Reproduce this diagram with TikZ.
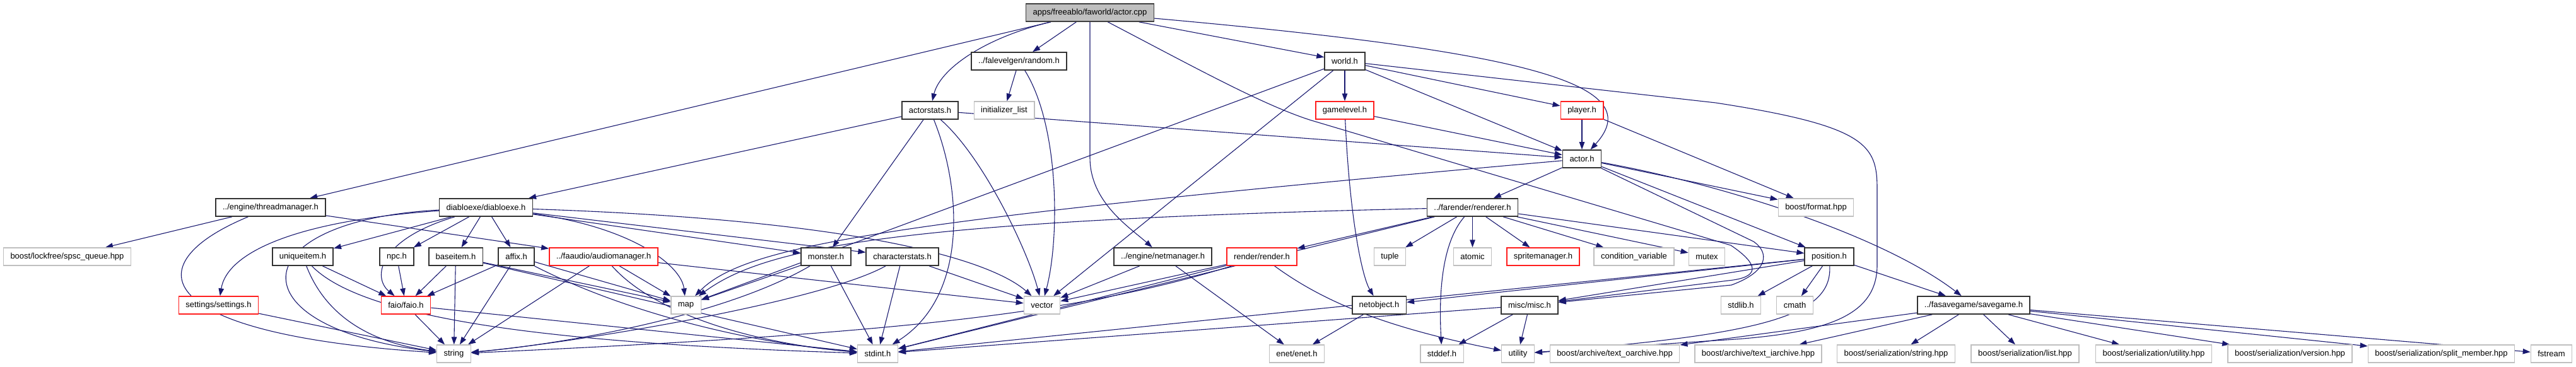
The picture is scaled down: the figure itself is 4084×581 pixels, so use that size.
\documentclass[tikz,border=0pt]{standalone}
\usepackage{fontspec}
\setmainfont{Liberation Sans}
\usepackage{tikz}
\usetikzlibrary{arrows.meta}

\definecolor{edgeblue}{RGB}{25,25,112}
\definecolor{boxgray}{RGB}{191,191,191}
\definecolor{boxred}{RGB}{255,30,30}

\pgfdeclarelayer{edges}
\pgfsetlayers{edges,main}

\begin{document}
\begin{tikzpicture}[x=1pt, y=-1pt,
    every node/.style={font=\fontsize{13}{15}\selectfont, inner xsep=11pt, inner ysep=0pt, minimum height=28pt, fill=white},
    filebox/.style={draw=black!80, line width=1.6pt},
    redbox/.style={draw=boxred, line width=1.4pt},
    sysbox/.style={draw=boxgray, line width=1.3pt},
    rootbox/.style={draw=black!75, line width=1.6pt, fill=boxgray},
    dep/.style={draw=edgeblue, line width=1.1pt, -{Triangle[length=12pt,width=8.5pt]}, edgeblue}]
    \useasboundingbox (0,0) rectangle (4084,581);

    % Nodes, top to bottom
    \node[rootbox] (cpp) at (1728,20) {apps/freeablo/faworld/actor.cpp};

    \node[filebox] (random) at (1615.5,97) {../falevelgen/random.h};
    \node[filebox] (world) at (2132,97) {world.h};

    \node[filebox] (actorstats) at (1474.5,175) {actorstats.h};
    \node[sysbox] (initlist) at (1592,175) {initializer\_list};
    \node[redbox] (gamelevel) at (2132,175) {gamelevel.h};
    \node[redbox] (player) at (2508,175) {player.h};

    \node[filebox] (actorh) at (2508,252) {actor.h};

    \node[filebox] (threadmgr) at (429,329) {../engine/threadmanager.h};
    \node[filebox] (diabloexe) at (770.5,329) {diabloexe/diabloexe.h};
    \node[filebox] (renderer) at (2334.5,329) {../farender/renderer.h};
    \node[sysbox] (boostformat) at (2879,329) {boost/format.hpp};

    \node[sysbox] (spsc) at (106.5,407) {boost/lockfree/spsc\_queue.hpp};
    \node[filebox] (uniqueitem) at (480,407) {uniqueitem.h};
    \node[filebox] (npc) at (629,407) {npc.h};
    \node[filebox] (baseitem) at (722.5,407) {baseitem.h};
    \node[filebox] (affix) at (818.5,407) {affix.h};
    \node[redbox] (audiomgr) at (957,407) {../faaudio/audiomanager.h};
    \node[filebox] (monster) at (1309.5,407) {monster.h};
    \node[filebox] (charstats) at (1430.5,407) {characterstats.h};
    \node[filebox] (netmgr) at (1843.5,407) {../engine/netmanager.h};
    \node[redbox] (render) at (2000.5,407) {render/render.h};
    \node[sysbox] (tuple) at (2203.5,407) {tuple};
    \node[sysbox] (atomic) at (2334.5,407) {atomic};
    \node[redbox] (spritemgr) at (2446.5,407) {spritemanager.h};
    \node[sysbox] (condvar) at (2590.5,407) {condition\_variable};
    \node[sysbox] (mutex) at (2706,407) {mutex};
    \node[filebox] (position) at (2900,407) {position.h};

    \node[redbox] (settings) at (346.5,484) {settings/settings.h};
    \node[redbox] (faio) at (643.5,484) {faio/faio.h};
    \node[sysbox] (map) at (1087.5,484) {map};
    \node[sysbox] (vector) at (1652,484) {vector};
    \node[filebox] (netobject) at (2186.5,484) {netobject.h};
    \node[filebox] (misc) at (2425,484) {misc/misc.h};
    \node[sysbox] (stdlib) at (2760,484) {stdlib.h};
    \node[sysbox] (cmath) at (2845.5,484) {cmath};
    \node[filebox] (savegame) at (3129,484) {../fasavegame/savegame.h};

    \node[sysbox] (string) at (719.5,561) {string};
    \node[sysbox] (stdint) at (1391.5,561) {stdint.h};
    \node[sysbox] (enet) at (2056,561) {enet/enet.h};
    \node[sysbox] (stddef) at (2286,561) {stddef.h};
    \node[sysbox] (utility) at (2406.5,561) {utility};
    \node[sysbox] (oarchive) at (2560,561) {boost/archive/text\_oarchive.hpp};
    \node[sysbox] (iarchive) at (2787.5,561) {boost/archive/text\_iarchive.hpp};
    \node[sysbox] (serstring) at (3006,561) {boost/serialization/string.hpp};
    \node[sysbox] (serlist) at (3210.5,561) {boost/serialization/list.hpp};
    \node[sysbox] (serutility) at (3414.5,561) {boost/serialization/utility.hpp};
    \node[sysbox] (serversion) at (3630.5,561) {boost/serialization/version.hpp};
    \node[sysbox] (sersplit) at (3870.5,561) {boost/serialization/split\_member.hpp};
    \node[sysbox] (fstream) at (4045,561) {fstream};

    \begin{pgfonlayer}{edges}
    % actor.cpp
    \draw[dep] (cpp) -- (threadmgr);
    \draw[dep] (cpp) .. controls (1560,60) and (1490,110) .. (actorstats);
    \draw[dep] (cpp) -- (random);
    \draw[dep] (cpp.south) -- (1728,250) .. controls (1728,320) and (1790,360) .. (netmgr);
    \draw[dep] (cpp) -- (world);
    \draw[dep] (cpp) .. controls (2400,80) and (2620,130) .. (actorh);
    \draw[dep] (cpp) .. controls (1900,110) and (2000,165) .. (2076,190) -- (2744,389)
        .. controls (2790,420) and (2790,440) .. (2740,445) -- (misc);

    % random.h, world.h
    \draw[dep] (random) -- (initlist);
    \draw[dep] (random) .. controls (1680,200) and (1680,380) .. (vector);
    \draw[dep] (world) -- (gamelevel);
    \draw[dep] (world) -- (player);
    \draw[dep] (world) -- (actorh);
    \draw[dep] (world) -- (map);
    \draw[dep] (world) -- (vector);
    \draw[dep] (world) -- (2720,163) .. controls (2960,200) and (2976,230) .. (2976,300)
        -- (2976,420) .. controls (2976,500) and (2900,530) .. (2720,540) -- (utility);

    % actorstats.h
    \draw[dep] (actorstats) -- (diabloexe);
    \draw[dep] (actorstats) -- (actorh);
    \draw[dep] (actorstats) -- (monster);
    \draw[dep] (actorstats) .. controls (1525,300) and (1535,470) .. (stdint);
    \draw[dep] (actorstats) .. controls (1560,250) and (1630,400) .. (vector);

    % gamelevel.h, player.h
    \draw[dep] (gamelevel) -- (actorh);
    \draw[dep] (gamelevel) .. controls (2140,350) and (2160,440) .. (netobject);
    \draw[dep] (player) -- (actorh);
    \draw[dep] (player) -- (boostformat);

    % actor.h
    \draw[dep] (actorh) -- (renderer);
    \draw[dep] (actorh) .. controls (1400,350) and (1180,390) .. (map);
    \draw[dep] (actorh) -- (boostformat);
    \draw[dep] (actorh) -- (position);
    \draw[dep] (actorh) .. controls (2720,290) and (2980,370) .. (savegame);
    \draw[dep] (actorh) -- (2780,383) .. controls (2805,400) and (2805,430) .. (2745,452) -- (misc);

    % renderer.h
    \draw[dep] (renderer) -- (render);
    \draw[dep] (renderer) -- (tuple);
    \draw[dep] (renderer) -- (atomic);
    \draw[dep] (renderer) -- (spritemgr);
    \draw[dep] (renderer) -- (condvar);
    \draw[dep] (renderer) -- (mutex);
    \draw[dep] (renderer) -- (position);
    \draw[dep] (renderer) .. controls (2290,380) and (2280,450) .. (stddef);
    \draw[dep] (renderer) .. controls (1400,350) and (1210,395) .. (map);
    \draw[dep] (renderer) -- (stdint);

    % threadmanager.h
    \draw[dep] (threadmgr) -- (spsc);
    \draw[dep] (threadmgr) -- (audiomgr);
    \draw[dep] (threadmgr) .. controls (210,420) and (240,530) .. (string);

    % diabloexe.h
    \draw[dep] (diabloexe) .. controls (470,350) and (360,400) .. (settings);
    \draw[dep] (diabloexe) .. controls (380,350) and (370,520) .. (string);
    \draw[dep] (diabloexe) .. controls (600,380) and (590,440) .. (faio);
    \draw[dep] (diabloexe) -- (uniqueitem);
    \draw[dep] (diabloexe) -- (npc);
    \draw[dep] (diabloexe) -- (baseitem);
    \draw[dep] (diabloexe) -- (affix);
    \draw[dep] (diabloexe) .. controls (1000,360) and (1080,420) .. (map);
    \draw[dep] (diabloexe) -- (monster);
    \draw[dep] (diabloexe) -- (charstats);
    \draw[dep] (diabloexe) .. controls (1400,350) and (1580,420) .. (vector);

    % items and audio
    \draw[dep] (uniqueitem) -- (faio);
    \draw[dep] (uniqueitem) .. controls (520,510) and (600,545) .. (string);
    \draw[dep] (uniqueitem) .. controls (580,510) and (900,545) .. (stdint);
    \draw[dep] (npc) -- (faio);
    \draw[dep] (baseitem) -- (faio);
    \draw[dep] (baseitem) -- (string);
    \draw[dep] (baseitem) -- (map);
    \draw[dep] (baseitem) -- (stdint);
    \draw[dep] (affix) -- (faio);
    \draw[dep] (affix) -- (string);
    \draw[dep] (affix) -- (map);
    \draw[dep] (affix) .. controls (1000,500) and (1200,545) .. (stdint);
    \draw[dep] (audiomgr) -- (map);
    \draw[dep] (audiomgr) -- (string);
    \draw[dep] (audiomgr) .. controls (1040,500) and (1200,545) .. (stdint);
    \draw[dep] (audiomgr) -- (vector);
    \draw[dep] (faio) -- (string);
    \draw[dep] (faio) -- (stdint);
    \draw[dep] (settings) -- (string);

    % monster.h, characterstats.h
    \draw[dep] (monster) -- (map);
    \draw[dep] (monster) .. controls (1150,500) and (900,545) .. (string);
    \draw[dep] (monster) -- (stdint);
    \draw[dep] (charstats) .. controls (1300,480) and (900,545) .. (string);
    \draw[dep] (charstats) -- (stdint);
    \draw[dep] (charstats) -- (vector);

    % net and render
    \draw[dep] (netmgr) -- (vector);
    \draw[dep] (netmgr) -- (enet);
    \draw[dep] (render) -- (vector);
    \draw[dep] (render) .. controls (1700,500) and (1400,530) .. (string);
    \draw[dep] (render) -- (stdint);
    \draw[dep] (render) .. controls (2100,480) and (2200,520) .. (utility);
    \draw[dep] (netobject) -- (enet);

    % misc.h, position.h
    \draw[dep] (misc) -- (stddef);
    \draw[dep] (misc) -- (utility);
    \draw[dep] (misc) -- (stdint);
    \draw[dep] (position) -- (stdlib);
    \draw[dep] (position) -- (cmath);
    \draw[dep] (position) -- (savegame);
    \draw[dep] (position) -- (netobject);
    \draw[dep] (position) -- (misc);
    \draw[dep] (position) -- (stdint);
    \draw[dep] (position) .. controls (2905,500) and (2800,530) .. (utility);

    % savegame.h
    \draw[dep] (savegame) -- (oarchive);
    \draw[dep] (savegame) -- (iarchive);
    \draw[dep] (savegame) -- (serstring);
    \draw[dep] (savegame) -- (serlist);
    \draw[dep] (savegame) -- (serutility);
    \draw[dep] (savegame) -- (serversion);
    \draw[dep] (savegame) -- (sersplit);
    \draw[dep] (savegame) -- (fstream);
    \end{pgfonlayer}
\end{tikzpicture}
\end{document}
